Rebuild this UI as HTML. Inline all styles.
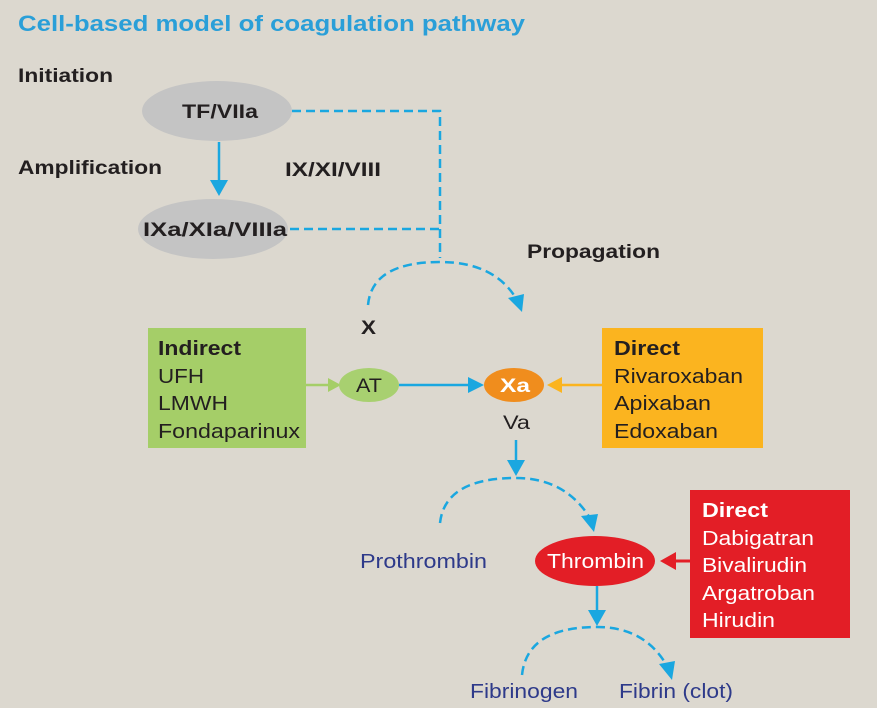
<!DOCTYPE html>
<html><head><style>
body{margin:0;background:#dcd8cf}
svg{display:block;font-family:"Liberation Sans",Arial,sans-serif}
</style></head><body>
<svg width="877" height="708" viewBox="0 0 877 708">
<rect width="877" height="708" fill="#dcd8cf"/>
<text x="18" y="31" font-size="22" font-weight="bold" fill="#2a9fd8" textLength="507" lengthAdjust="spacingAndGlyphs">Cell-based model of coagulation pathway</text>
<text x="18" y="82" font-size="19" font-weight="bold" fill="#231f20" textLength="95" lengthAdjust="spacingAndGlyphs">Initiation</text>
<text x="18" y="174" font-size="19" font-weight="bold" fill="#231f20" textLength="144" lengthAdjust="spacingAndGlyphs">Amplification</text>
<text x="285" y="176" font-size="19" font-weight="bold" fill="#231f20" textLength="96" lengthAdjust="spacingAndGlyphs">IX/XI/VIII</text>
<text x="527" y="258" font-size="19" font-weight="bold" fill="#231f20" textLength="133" lengthAdjust="spacingAndGlyphs">Propagation</text>
<ellipse cx="217" cy="111" rx="75" ry="30" fill="#c4c4c4"/>
<text x="182" y="118" font-size="19" font-weight="bold" fill="#231f20" textLength="76" lengthAdjust="spacingAndGlyphs">TF/VIIa</text>
<ellipse cx="213" cy="229" rx="75" ry="30" fill="#c4c4c4"/>
<text x="143" y="236" font-size="19" font-weight="bold" fill="#231f20" textLength="144" lengthAdjust="spacingAndGlyphs">IXa/XIa/VIIIa</text>
<g stroke="#1aa7e0" stroke-width="2.5" fill="none">
<line x1="219" y1="142" x2="219" y2="182"/>
<path d="M292,111 H440 V258 M290,229 H440" stroke-dasharray="9,5"/>
<path d="M368,305 Q372,262 440,262 Q495,262 517,300" stroke-dasharray="9,5"/>
<line x1="399" y1="385" x2="470" y2="385"/>
<line x1="516" y1="440" x2="516" y2="462"/>
<path d="M440,523 Q445,478 516,478 Q565,478 590,518" stroke-dasharray="9,5"/>
<line x1="597" y1="586" x2="597" y2="612"/>
<path d="M522,675 Q527,627 597,627 Q645,627 667,666" stroke-dasharray="9,5"/>
</g>
<g fill="#1aa7e0">
<path d="M210,180 L228,180 L219,196z"/>
<path d="M508,298 L524,294 L522,312z"/>
<path d="M468,377 L484,385 L468,393z"/>
<path d="M507,460 L525,460 L516,476z"/>
<path d="M581,516 L598,514 L594,532z"/>
<path d="M588,610 L606,610 L597,626z"/>
<path d="M659,664 L675,661 L672,680z"/>
</g>
<text x="361" y="334" font-size="19" font-weight="bold" fill="#231f20" textLength="15" lengthAdjust="spacingAndGlyphs">X</text>
<rect x="148" y="328" width="158" height="120" fill="#a5ce68"/>
<g font-size="20" fill="#231f20">
<text x="158" y="355" font-weight="bold" textLength="83" lengthAdjust="spacingAndGlyphs">Indirect</text>
<text x="158" y="383" textLength="46" lengthAdjust="spacingAndGlyphs">UFH</text>
<text x="158" y="410" textLength="70" lengthAdjust="spacingAndGlyphs">LMWH</text>
<text x="158" y="438" textLength="142" lengthAdjust="spacingAndGlyphs">Fondaparinux</text>
</g>
<line x1="306" y1="385" x2="330" y2="385" stroke="#a5ce68" stroke-width="2.5"/>
<path d="M328,378 L341,385 L328,392z" fill="#a5ce68"/>
<ellipse cx="369" cy="385" rx="30" ry="17" fill="#a8d070"/>
<text x="356" y="392" font-size="19" fill="#231f20" textLength="26" lengthAdjust="spacingAndGlyphs">AT</text>
<ellipse cx="514" cy="385" rx="30" ry="17" fill="#f08d1d"/>
<text x="500" y="392" font-size="19" font-weight="bold" fill="#fff" textLength="30" lengthAdjust="spacingAndGlyphs">Xa</text>
<rect x="602" y="328" width="161" height="120" fill="#fbb41f"/>
<g font-size="20" fill="#231f20">
<text x="614" y="355" font-weight="bold" textLength="66" lengthAdjust="spacingAndGlyphs">Direct</text>
<text x="614" y="383" textLength="129" lengthAdjust="spacingAndGlyphs">Rivaroxaban</text>
<text x="614" y="410" textLength="97" lengthAdjust="spacingAndGlyphs">Apixaban</text>
<text x="614" y="438" textLength="104" lengthAdjust="spacingAndGlyphs">Edoxaban</text>
</g>
<line x1="602" y1="385" x2="560" y2="385" stroke="#fbb41f" stroke-width="2.5"/>
<path d="M562,377 L547,385 L562,393z" fill="#fbb41f"/>
<text x="503" y="429" font-size="19" fill="#231f20" textLength="27" lengthAdjust="spacingAndGlyphs">Va</text>
<text x="360" y="568" font-size="20" fill="#2e3a8a" textLength="127" lengthAdjust="spacingAndGlyphs">Prothrombin</text>
<ellipse cx="595" cy="561" rx="60" ry="25" fill="#e31e26"/>
<text x="547" y="568" font-size="20" fill="#fff" textLength="97" lengthAdjust="spacingAndGlyphs">Thrombin</text>
<rect x="690" y="490" width="160" height="148" fill="#e31e26"/>
<g font-size="20" fill="#fff">
<text x="702" y="517" font-weight="bold" textLength="66" lengthAdjust="spacingAndGlyphs">Direct</text>
<text x="702" y="545" textLength="112" lengthAdjust="spacingAndGlyphs">Dabigatran</text>
<text x="702" y="572" textLength="105" lengthAdjust="spacingAndGlyphs">Bivalirudin</text>
<text x="702" y="600" textLength="113" lengthAdjust="spacingAndGlyphs">Argatroban</text>
<text x="702" y="627" textLength="73" lengthAdjust="spacingAndGlyphs">Hirudin</text>
</g>
<line x1="690" y1="561" x2="672" y2="561" stroke="#e31e26" stroke-width="3"/>
<path d="M676,552 L660,561 L676,570z" fill="#e31e26"/>
<text x="470" y="698" font-size="20" fill="#2e3a8a" textLength="108" lengthAdjust="spacingAndGlyphs">Fibrinogen</text>
<text x="619" y="698" font-size="20" fill="#2e3a8a" textLength="114" lengthAdjust="spacingAndGlyphs">Fibrin (clot)</text>
</svg>
</body></html>
